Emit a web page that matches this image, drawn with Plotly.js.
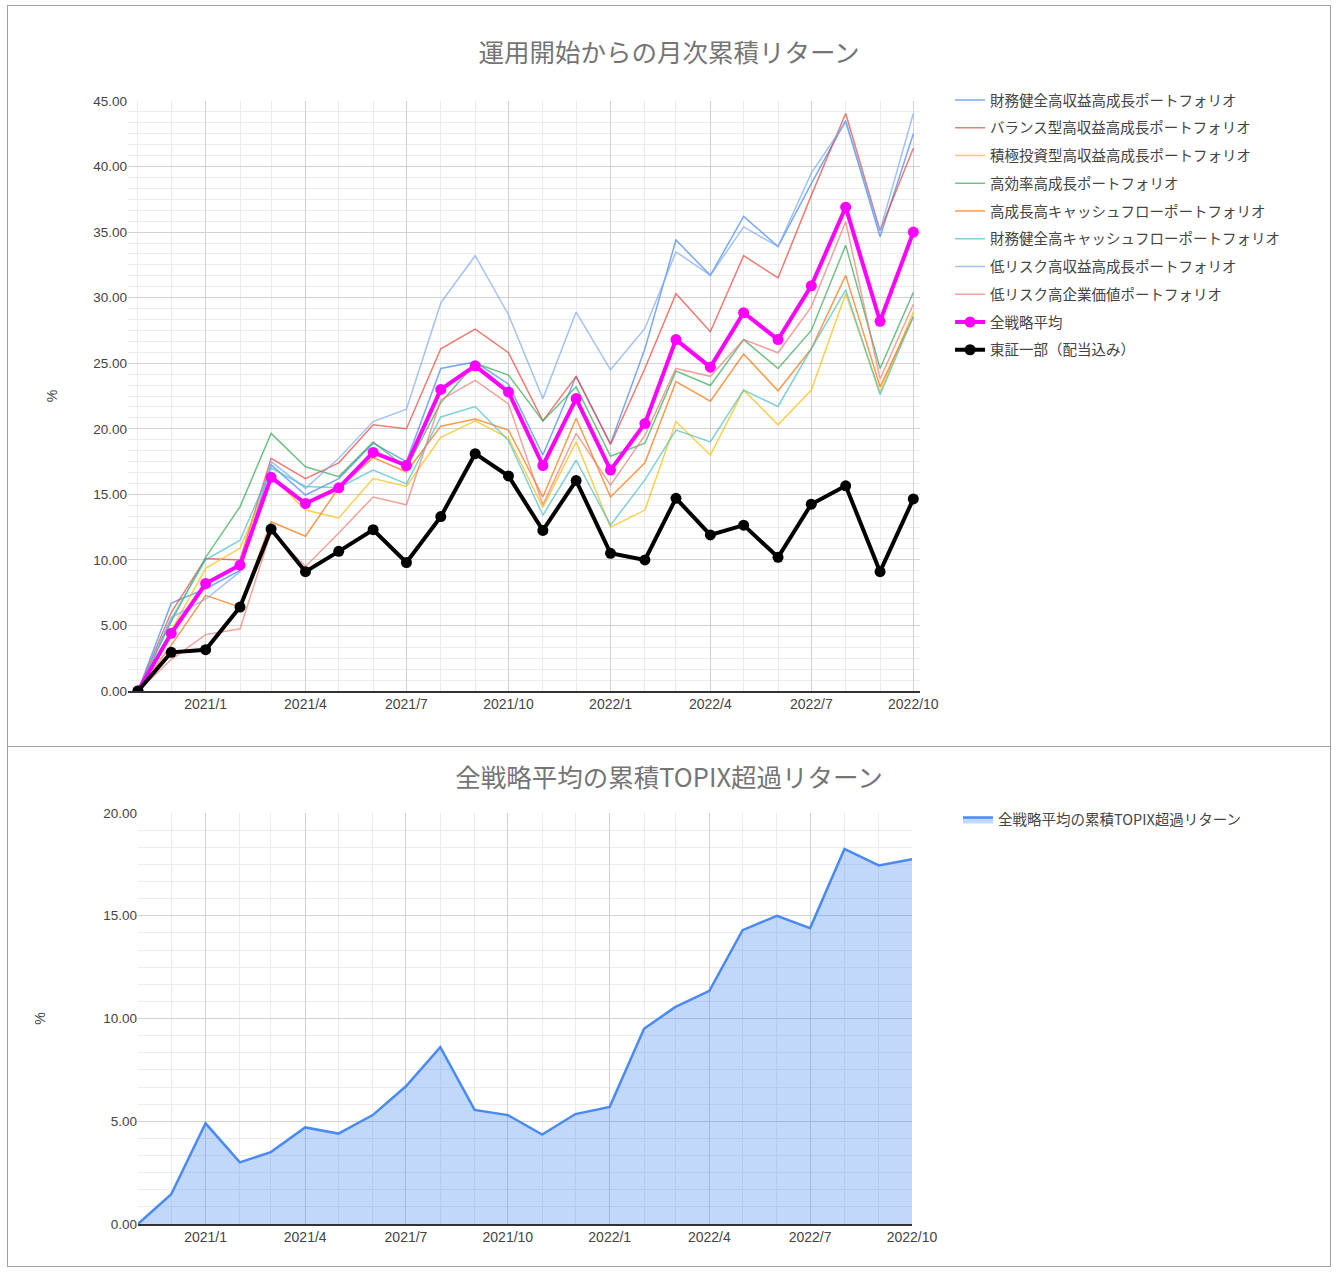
<!DOCTYPE html>
<html>
<head>
<meta charset="utf-8">
<script src="https://cdn.plot.ly/plotly-3.0.1.min.js"></script>
<style>
  body { margin: 0; background: #fff; }
  #frame { position: absolute; left: 7px; top: 5px; width: 1322px; height: 1260px; border: 1px solid #a0a0a0; }
  #topChart { width: 1322px; height: 740px; border-bottom: 1px solid #a0a0a0; }
  #bottomChart { width: 1322px; height: 519px; }
</style>
</head>
<body>
<div id="frame">
  <div id="topChart"></div>
  <div id="bottomChart"></div>
</div>
<script>
// 月 (2020/11 - 2022/10)
const months = [
  '2020-11', '2020-12', '2021-01', '2021-02', '2021-03', '2021-04', '2021-05', '2021-06',
  '2021-07', '2021-08', '2021-09', '2021-10', '2021-11', '2021-12', '2022-01', '2022-02',
  '2022-03', '2022-04', '2022-05', '2022-06', '2022-07', '2022-08', '2022-09', '2022-10'
];

// 各ポートフォリオの累積リターン (%)
const zaimuKouShueki   = [0, 6.7, 7.8, 9.2, 17.25, 14.95, 16.2, 18.9, 17.5, 24.6, 25.1, 23.4, 18.0, 24.0, 18.85, 26.1, 34.4, 31.7, 36.2, 33.9, 38.7, 43.5, 34.65, 42.5];
const balanceKouShueki = [0, 6.0, 10.1, 10.0, 17.75, 16.2, 17.4, 20.3, 20.0, 26.1, 27.6, 25.8, 20.6, 24.0, 18.8, 24.6, 30.3, 27.4, 33.2, 31.5, 37.8, 44.05, 35.1, 41.4];
const sekkyokuToushi   = [0, 4.6, 9.35, 10.9, 16.4, 13.8, 13.2, 16.2, 15.6, 19.35, 20.6, 19.3, 14.0, 19.0, 12.5, 13.8, 20.55, 18.0, 22.95, 20.3, 22.95, 30.3, 22.8, 28.9];
const kouKouritsu      = [0, 5.3, 10.2, 14.05, 19.65, 17.1, 16.35, 19.0, 17.0, 22.0, 25.0, 24.1, 20.6, 23.2, 17.9, 18.9, 24.4, 23.3, 26.8, 24.6, 27.5, 34.0, 24.6, 30.4];
const kouSeichoCF      = [0, 3.5, 7.3, 6.4, 12.9, 11.8, 15.5, 17.8, 16.7, 20.2, 20.75, 19.9, 14.8, 20.8, 14.8, 17.4, 23.6, 22.1, 25.7, 22.9, 26.1, 31.7, 23.2, 28.55];
const zaimuCF          = [0, 5.5, 10.0, 11.5, 17.0, 15.6, 15.5, 16.85, 15.8, 20.9, 21.7, 19.1, 13.4, 17.6, 12.65, 16.1, 19.9, 19.0, 22.95, 21.7, 26.1, 30.6, 22.6, 28.55];
const teiRiskShueki    = [0, 5.6, 7.0, 9.1, 17.5, 15.45, 17.75, 20.55, 21.5, 29.6, 33.2, 28.7, 22.3, 28.9, 24.5, 27.65, 33.5, 31.7, 35.4, 33.9, 39.5, 43.4, 35.1, 44.05];
const teiRiskKachi     = [0, 2.4, 4.3, 4.75, 12.15, 9.5, 12.05, 14.8, 14.2, 22.2, 23.7, 21.9, 14.2, 19.65, 15.7, 19.5, 24.6, 24.0, 26.8, 25.8, 29.3, 35.8, 23.8, 29.5];
const zenSenryakuAvg   = [0, 4.4, 8.2, 9.6, 16.3, 14.3, 15.5, 18.2, 17.2, 23.0, 24.8, 22.8, 17.2, 22.3, 16.85, 20.4, 26.8, 24.7, 28.85, 26.8, 30.9, 36.9, 28.2, 35.0];
const toshoIchibu      = [0, 2.95, 3.15, 6.4, 12.35, 9.1, 10.65, 12.3, 9.8, 13.3, 18.1, 16.4, 12.25, 16.05, 10.5, 10.0, 14.7, 11.9, 12.65, 10.2, 14.25, 15.65, 9.1, 14.65];

// 全戦略平均の累積TOPIX超過リターン (%)
const excessReturn = [0, 1.45, 4.9, 3.0, 3.5, 4.7, 4.4, 5.3, 6.7, 8.6, 5.55, 5.3, 4.35, 5.35, 5.7, 9.5, 10.55, 11.35, 14.3, 15.0, 14.4, 18.25, 17.45, 17.75];

const seriesNames = [
  '財務健全高収益高成長ポートフォリオ',
  'バランス型高収益高成長ポートフォリオ',
  '積極投資型高収益高成長ポートフォリオ',
  '高効率高成長ポートフォリオ',
  '高成長高キャッシュフローポートフォリオ',
  '財務健全高キャッシュフローポートフォリオ',
  '低リスク高収益高成長ポートフォリオ',
  '低リスク高企業価値ポートフォリオ'
];
const seriesValues = [zaimuKouShueki, balanceKouShueki, sekkyokuToushi, kouKouritsu,
  kouSeichoCF, zaimuCF, teiRiskShueki, teiRiskKachi];
const seriesColors = ['66,133,244', '234,67,53', '251,188,4', '52,168,83',
  '255,109,1', '70,189,198', '123,170,247', '240,123,114'];

const fontFamily = '"Liberation Sans", Arial, "Noto Sans CJK JP", sans-serif';
const jpFont = '"Noto Sans CJK JP", sans-serif';
const titleColor = '#757575';
const tickColor = '#444';

function baseAxes(yMax, xRange, titleStandoff) {
  return {
    xaxis: {
      type: 'date', range: xRange,
      tick0: '2021-01-01', dtick: 'M3', tickformat: '%Y/%-m',
      showgrid: true, gridcolor: '#d2d2d2', gridwidth: 1,
      minor: { dtick: 'M1', showgrid: true, gridcolor: '#ececec', gridwidth: 1 },
      showline: true, linecolor: '#333', linewidth: 1.5,
      ticks: '', tickfont: { size: 14, color: tickColor }, zeroline: false
    },
    yaxis: {
      range: [0, yMax], dtick: 5, tick0: 0, tickformat: '.2f',
      showgrid: true, gridcolor: '#d2d2d2', gridwidth: 1,
      minor: { dtick: 5 / 6, tick0: 0, showgrid: true, gridcolor: '#ececec', gridwidth: 1 },
      zeroline: false, ticks: '', tickfont: { size: 13.5, color: tickColor },
      title: { text: '%', font: { size: 14, color: tickColor }, standoff: titleStandoff }
    }
  };
}

// --- 上: 運用開始からの月次累積リターン ---
const topTraces = seriesNames.map((name, i) => ({
  x: months, y: seriesValues[i], name: name, legendgroup: 'g' + i,
  type: 'scatter', mode: 'lines',
  line: { color: 'rgba(' + seriesColors[i] + ',0.7)', width: 1.5 }
}));
topTraces.push({
  x: months, y: zenSenryakuAvg, name: '全戦略平均', legendgroup: 'g8',
  type: 'scatter', mode: 'lines+markers',
  line: { color: '#ff00ff', width: 4 }, marker: { color: '#ff00ff', size: 11 }
});
topTraces.push({
  x: months, y: toshoIchibu, name: '東証一部（配当込み）', legendgroup: 'g9',
  type: 'scatter', mode: 'lines+markers',
  line: { color: '#000', width: 4 }, marker: { color: '#000', size: 11 }
});

const topAxes = baseAxes(45, ['2020-10-23', '2022-10-07'], 32);
const topLayout = {
  width: 1322, height: 740,
  margin: { l: 120, r: 410, t: 95, b: 55 },
  paper_bgcolor: '#fff', plot_bgcolor: '#fff',
  font: { family: fontFamily, color: tickColor },
  title: { text: '運用開始からの月次累積リターン', xref: 'container', x: 0.5, xanchor: 'center',
    yref: 'container', y: 0.937, yanchor: 'middle',
    font: { size: 25.5, color: titleColor, family: jpFont } },
  xaxis: topAxes.xaxis, yaxis: topAxes.yaxis,
  showlegend: true,
  legend: { xref: 'container', x: 0.7126, xanchor: 'left', yref: 'container', y: 0.8945, yanchor: 'top',
    tracegroupgap: 5.9, itemwidth: 30,
    font: { size: 14.5, color: '#444', family: jpFont } }
};
Plotly.newPlot('topChart', topTraces, topLayout, { staticPlot: true });

// --- 下: 全戦略平均の累積TOPIX超過リターン ---
const bottomTraces = [{
  x: months, y: excessReturn, name: '全戦略平均の累積TOPIX超過リターン',
  type: 'scatter', mode: 'lines', fill: 'tozeroy',
  fillcolor: 'rgba(66,133,244,0.32)',
  line: { color: '#4a8af4', width: 2.5 }
}];
const bottomAxes = baseAxes(20, ['2020-11-01', '2022-10-01'], 54);
const bottomLayout = {
  width: 1322, height: 519,
  margin: { l: 130, r: 418, t: 66, b: 42 },
  paper_bgcolor: '#fff', plot_bgcolor: '#fff',
  font: { family: fontFamily, color: tickColor },
  title: { text: '全戦略平均の累積TOPIX超過リターン', xref: 'container', x: 0.5, xanchor: 'center',
    yref: 'container', y: 0.94, yanchor: 'middle',
    font: { size: 25.5, color: titleColor, family: jpFont } },
  xaxis: bottomAxes.xaxis, yaxis: bottomAxes.yaxis,
  showlegend: true,
  legend: { xref: 'container', x: 0.7186, xanchor: 'left', yref: 'container', y: 0.891, yanchor: 'top',
    itemwidth: 30,
    font: { size: 14.5, color: '#444', family: jpFont } }
};
Plotly.newPlot('bottomChart', bottomTraces, bottomLayout, { staticPlot: true });
</script>
</body>
</html>
